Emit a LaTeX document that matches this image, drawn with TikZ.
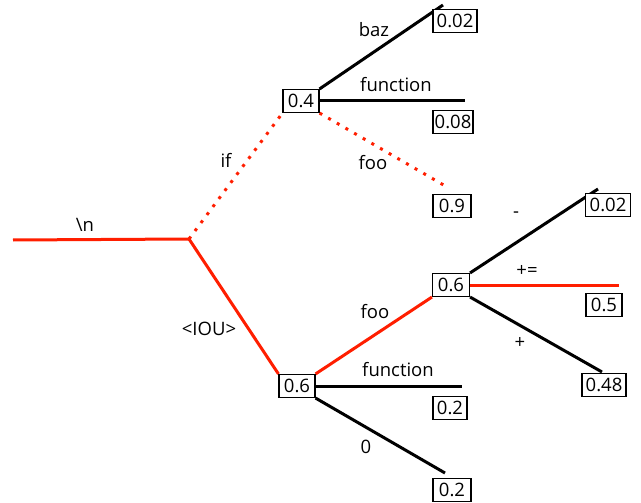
\documentclass[tikz,border=0pt]{standalone}
\usepackage{fontspec}
\setmainfont{Open Sans}
\definecolor{rd}{RGB}{255,30,0}
\begin{document}
\begin{tikzpicture}[x=1pt,y=-1pt,
  prob/.style={draw=black,line width=1.1pt,fill=white,inner sep=0pt,minimum width=#1,minimum height=23pt,font=\fontsize{18.5}{18.5}\selectfont},
  prob/.default=36pt,
  lbl/.style={inner sep=0pt,font=\fontsize{18.5}{18.5}\selectfont},
  br/.style={line width=3pt,black},
  hot/.style={line width=3pt,rd},
  dots/.style={line width=3pt,rd,dash pattern=on 3pt off 7pt}]
\useasboundingbox (0,0) rectangle (641,503);
% coordinates
\coordinate (s) at (13,240);
\coordinate (j) at (189,239);
\coordinate (ebaz) at (443,5);
\coordinate (efun1) at (465,101);
\coordinate (efoo1) at (447,187);
\coordinate (eminus) at (598,189);
\coordinate (epe) at (619,285);
\coordinate (eplus) at (602,372);
\coordinate (efun2) at (462,386);
\coordinate (ezero) at (445,473);
% boxes
\node[prob] (a) at (301,101) {0.4};
\node[prob] (b) at (297,386) {0.6};
\node[prob=37pt] (c) at (451,285) {0.6};
% edges
\draw[hot] (s) -- (j);
\draw[dots] (j) -- (a.south west);
\draw[hot] (j) -- (b.north west);
\draw[br] (a.north east) -- (ebaz);
\draw[br] (a.east) -- (efun1);
\draw[dots] (a.south east) -- (efoo1);
\draw[hot] (b.north east) -- (c.south west);
\draw[br] (b.east) -- (efun2);
\draw[br] (b.south east) -- (ezero);
\draw[br] (c.north east) -- (eminus);
\draw[hot] (c.east) -- (epe);
\draw[br] (c.south east) -- (eplus);
% redraw boxes on top
\node[prob] at (301,101) {0.4};
\node[prob] at (297,386) {0.6};
\node[prob=37pt] at (451,285) {0.6};
% leaf probabilities
\node[prob=44pt] (p1) at (455,21) {0.02};
\node[prob=40pt] (p2) at (453,122) {0.08};
\node[prob=38pt] (p3) at (452,206) {0.9};
\node[prob=45pt] (p4) at (608,205) {0.02};
\node[prob=36pt] (p5) at (604,305) {0.5};
\node[prob=44pt] (p6) at (604,385) {0.48};
\node[prob=34pt] (p7) at (450,408) {0.2};
\node[prob=38pt] (p8) at (452,490) {0.2};
% labels
\node[lbl] (l1) at (374,30) {baz};
\node[lbl] (l2) at (396,85) {function};
\node[lbl] (l3) at (373,163) {foo};
\node[lbl] (l4) at (85,225) {\textbackslash n};
\node[lbl] (l5) at (226,160) {if};
\node[lbl] (l6) at (209,329) {<IOU>};
\node[lbl] (l7) at (375,312) {foo};
\node[lbl] (l8) at (398,370) {function};
\node[lbl] (l9) at (366,447) {0};
\node[lbl] (l10) at (516,215) {-};
\node[lbl] (l11) at (527,271) {+=};
\node[lbl] (l12) at (520,343) {+};
\end{tikzpicture}
\end{document}
